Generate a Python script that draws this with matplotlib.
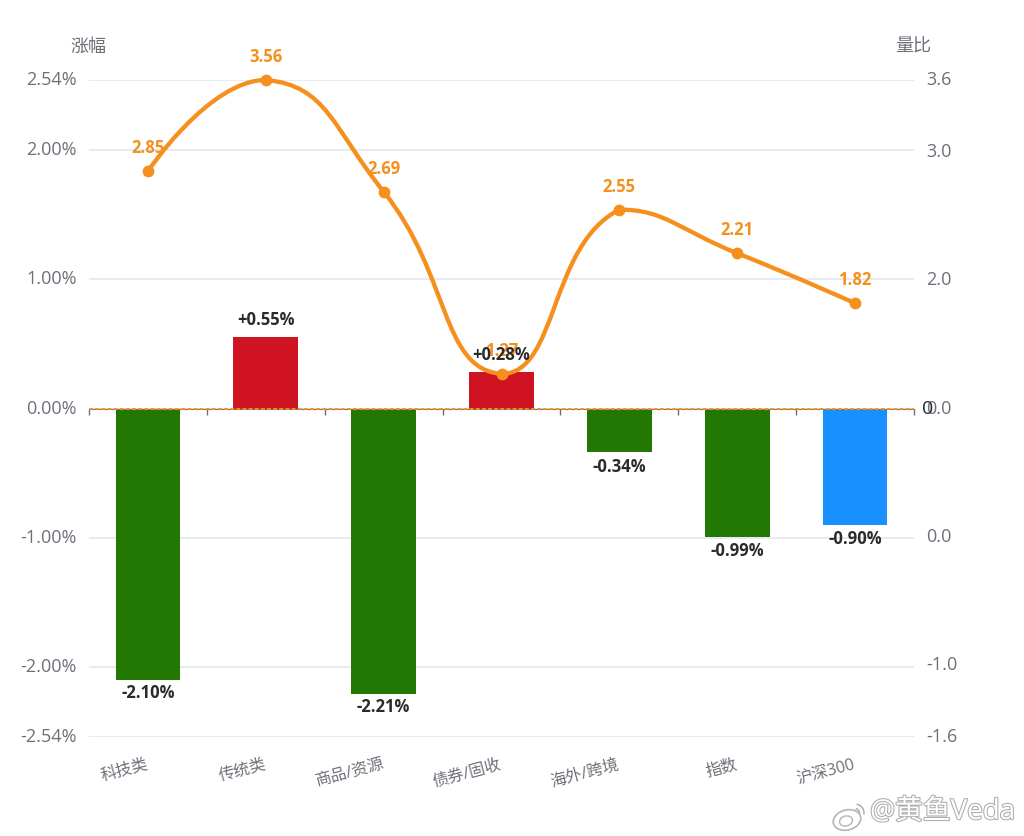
import numpy as np
from matplotlib import pyplot as plt
from matplotlib import patheffects
from matplotlib.patches import Arc, Ellipse, PathPatch
from matplotlib.path import Path
from matplotlib.transforms import ScaledTranslation

plt.rcParams['font.family'] = ['Open Sans', 'Noto Sans CJK SC', 'DejaVu Sans']

categories = ['科技类', '传统类', '商品/资源', '债券/固收', '海外/跨境', '指数', '沪深300']
changes = [-2.10, 0.55, -2.21, 0.28, -0.34, -0.99, -0.90]
change_labels = ['-2.10%', '+0.55%', '-2.21%', '+0.28%', '-0.34%', '-0.99%', '-0.90%']
bar_colors = ['#237804', '#cf1322', '#237804', '#cf1322', '#237804', '#237804', '#1890ff']
volume_ratio = [2.85, 3.56, 2.69, 1.27, 2.55, 2.21, 1.82]

left_ticks = [-2.54, -2.0, -1.0, 0.0, 1.0, 2.0, 2.54]
left_labels = ['-2.54%', '-2.00%', '-1.00%', '0.00%', '1.00%', '2.00%', '2.54%']
right_ticks = [-1.56, -1.0, 0.0, 1.0, 2.0, 3.0, 3.56]
right_labels = ['-1.6', '-1.0', '0.0', '0.0', '2.0', '3.0', '3.6']

ORANGE = '#f5901e'
GRAY = '#6e7079'
DARK = '#2b2b2b'
WIDTH, HEIGHT = 1024, 836


def smooth_path(xs, ys, smooth=0.5):
    # bezier through the points, tangents flattened at local extremes
    pts = np.column_stack([xs, ys])
    verts = [pts[0]]
    codes = [Path.MOVETO]
    out_cp = pts[0]
    for i in range(1, len(pts)):
        p = pts[i]
        if i == len(pts) - 1:
            in_cp = p
            next_out = p
        else:
            v = pts[i + 1] - pts[i - 1]
            len_prev = np.linalg.norm(p - pts[i - 1])
            len_next = np.linalg.norm(pts[i + 1] - p)
            ratio = len_next / (len_next + len_prev)
            in_cp = p - v * smooth * (1 - ratio)
            next_out = p + v * smooth * ratio
            in_cp[1] = np.clip(in_cp[1], min(p[1], pts[i - 1][1]), max(p[1], pts[i - 1][1]))
            next_out[1] = np.clip(next_out[1], min(p[1], pts[i + 1][1]), max(p[1], pts[i + 1][1]))
        verts += [out_cp, in_cp, p]
        codes += [Path.CURVE4] * 3
        out_cp = next_out
    return Path(verts, codes)


def raise_labels(labels, points):
    for label in labels:
        label.set_transform(label.get_transform() + ScaledTranslation(0, points / 72, fig.dpi_scale_trans))


fig = plt.figure(figsize=(WIDTH / 100, HEIGHT / 100), dpi=100)
ax = fig.add_axes([89 / WIDTH, 1 - 737 / HEIGHT, (914 - 89) / WIDTH, (737 - 80) / HEIGHT])
x = np.arange(len(categories))

ax.bar(x, changes, width=0.55, color=bar_colors, zorder=3)
ax.set_xlim(-0.5, len(categories) - 0.5)
ax.set_ylim(-2.54, 2.54)
ax.set_yticks(left_ticks, left_labels)
ax.tick_params(axis='y', length=0, pad=9, labelsize=13, labelcolor=GRAY)
raise_labels(ax.get_yticklabels(), 1.4)
ax.grid(axis='y', color='#e0e6f1', linewidth=1.2, zorder=0)

for side in ['top', 'left', 'right']:
    ax.spines[side].set_visible(False)
ax.spines['bottom'].set_position(('data', 0))
ax.spines['bottom'].set_color(GRAY)
ax.spines['bottom'].set_zorder(4)
ax.set_xticks(np.arange(len(categories) + 1) - 0.5, [])
ax.tick_params(axis='x', length=4.5, width=1, color=GRAY)
ax.plot([-0.5, len(categories) - 0.5], [0, 0], color=ORANGE, linewidth=1.3,
        linestyle=(0, (2.2, 1.2)), zorder=5, clip_on=False)

# category names sit under the plot area, right end below the category centre
for xi, name in zip(x, categories):
    ax.annotate(name, (xi, 0), xycoords=ax.get_xaxis_transform(), xytext=(0, -20),
                textcoords='offset points', ha='right', va='center', rotation=15,
                rotation_mode='anchor', fontsize=11.6, color=GRAY)

ax.text(88.5, HEIGHT - 47, '涨幅', transform=None, ha='center', va='center', fontsize=13, color=GRAY)
ax.text(913.5, HEIGHT - 47, '量比', transform=None, ha='center', va='center', fontsize=13, color=GRAY)

ax2 = ax.twinx()
ax2.set_ylim(-1.56, 3.56)
ax2.set_yticks(right_ticks, right_labels)
ax2.tick_params(axis='y', length=0, pad=9, labelsize=13, labelcolor=GRAY)
raise_labels(ax2.get_yticklabels(), 1.4)
for spine in ax2.spines.values():
    spine.set_visible(False)

ax2.add_patch(PathPatch(smooth_path(x, volume_ratio), facecolor='none', edgecolor=ORANGE,
                        linewidth=3.1, capstyle='round', zorder=3, clip_on=False))
ax2.plot(x, volume_ratio, 'o', color=ORANGE, markersize=8.5, markeredgewidth=0, zorder=4, clip_on=False)

for xi, ratio in zip(x, volume_ratio):
    ax2.annotate(f'{ratio:.2f}', (xi, ratio), xytext=(0, 16.5), textcoords='offset points',
                 ha='center', va='center', fontsize=12, fontweight='bold', color=ORANGE, zorder=5)

# bar value labels go last so they stay above the curve's labels
for xi, value, text in zip(x, changes, change_labels):
    offset = 13 if value > 0 else -11
    ax2.annotate(text, (xi, value + 1.0), xytext=(0, offset), textcoords='offset points',
                 ha='center', va='center', fontsize=12, fontweight='bold', color=DARK, zorder=6)

# the dark zero printed over the middle right-hand label
ax2.annotate('0', (1, 1.0), xycoords=ax2.get_yaxis_transform(), xytext=(5.5, 0), textcoords='offset points',
             ha='left', va='center', fontsize=14, color=DARK, zorder=7)

# weibo-style mark in the lower right corner
stamp = fig.add_axes([828 / WIDTH, 0, 44 / WIDTH, 36 / HEIGHT])
stamp.set_xlim(828, 872)
stamp.set_ylim(36, 0)
stamp.axis('off')
stamp.add_patch(Ellipse((847, 20), 28, 20, angle=-15, facecolor='white', edgecolor='#b4b4b4', linewidth=1.2))
stamp.add_patch(Ellipse((846, 21), 13, 10, angle=-15, facecolor='white', edgecolor='#b4b4b4', linewidth=1))
stamp.add_patch(Arc((855, 13), 18, 18, theta1=-80, theta2=10, edgecolor='#b4b4b4', linewidth=1.2))
stamp.add_patch(Arc((855, 13), 9, 9, theta1=-80, theta2=10, edgecolor='#b4b4b4', linewidth=1.2))

fig.text(942.5 / WIDTH, 1 - 812 / HEIGHT, '@黄鱼Veda', ha='center', va='center', fontsize=20, color='white',
         path_effects=[patheffects.withStroke(linewidth=1.6, foreground='#b0b0b0')])

fig.savefig('out.png', dpi=100)
